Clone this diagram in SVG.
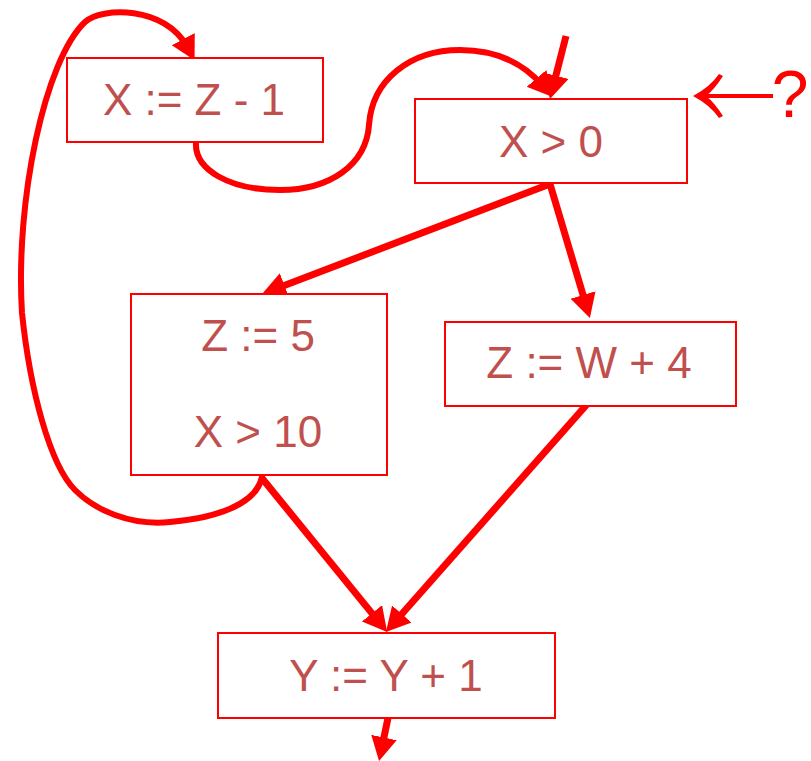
<svg xmlns="http://www.w3.org/2000/svg" width="811" height="761" viewBox="0 0 811 761">
<defs>
<style>
.box{fill:#FFFFFF;stroke:#FF0000;stroke-width:2}
.lbl{font-family:"Liberation Sans",Arial,sans-serif;font-size:44px;fill:#C0504D;text-anchor:middle}
.edge{fill:none;stroke:#FF0000;stroke-width:7}
.loop{fill:none;stroke:#FF0000;stroke-width:6;stroke-linecap:round}
</style>
<marker id="ah" markerUnits="userSpaceOnUse" markerWidth="30" markerHeight="30" viewBox="0 0 30 30" refX="10" refY="13" orient="auto">
<path d="M0,0 L24,13 L0,26 Z" fill="#FF0000"/>
</marker>
</defs>
<rect width="811" height="761" fill="#FFFFFF"/>
<g id="connectors">
<path class="edge" d="M566,36 L553.4,85.4" marker-end="url(#ah)"/>
<path class="loop" d="M196,142 C194,170 230,190 280,190 C330,190 366,165 369,125 C372,80 410,50 460,50 C500,50 525,65 543,86" marker-end="url(#ah)"/>
<path class="loop" d="M262,477 C256,505 215,518 170,522 C130,526 95,510 75,490 C50,465 30,390 22,313 C15,200 45,60 85,22 C101,7 165,5 188,48" marker-end="url(#ah)"/>
<path class="edge" d="M550,184 L275.1,289" marker-end="url(#ah)"/>
<path class="edge" d="M550,184 L585.9,304.6" marker-end="url(#ah)"/>
<path class="edge" d="M261,477 L378.3,621.1" marker-end="url(#ah)"/>
<path class="edge" d="M589,402 L395.2,621.5" marker-end="url(#ah)"/>
<path class="edge" d="M388,718 L381.9,747.3" marker-end="url(#ah)"/>
<path fill="none" stroke="#FF0000" stroke-width="4" d="M773,96 L697,96"/>
<path fill="#FF0000" d="M693,96 Q710,87 719,74 L723,76 Q714,90 706,96 Q714,102 723,116 L719,118 Q710,105 693,96 Z"/>
<text x="790" y="117" font-family="Liberation Sans,Arial,sans-serif" font-size="66" fill="#FF0000" text-anchor="middle">?</text>
</g>
<g id="n1">
<rect class="box" x="67" y="58" width="256" height="84"/>
<text class="lbl" x="194" y="115">X := Z - 1</text>
</g>
<g id="n2">
<rect class="box" x="415" y="99" width="272" height="84"/>
<text class="lbl" x="551" y="157">X &gt; 0</text>
</g>
<g id="n3">
<rect class="box" x="131" y="294" width="256" height="181"/>
<text class="lbl" x="258" y="351">Z := 5</text>
<text class="lbl" x="258" y="447">X &gt; 10</text>
</g>
<g id="n4">
<rect class="box" x="445" y="322" width="291" height="84"/>
<text class="lbl" x="589" y="378">Z := W + 4</text>
</g>
<g id="n5">
<rect class="box" x="218" y="633" width="337" height="85"/>
<text class="lbl" x="386" y="691">Y := Y + 1</text>
</g>
</svg>
